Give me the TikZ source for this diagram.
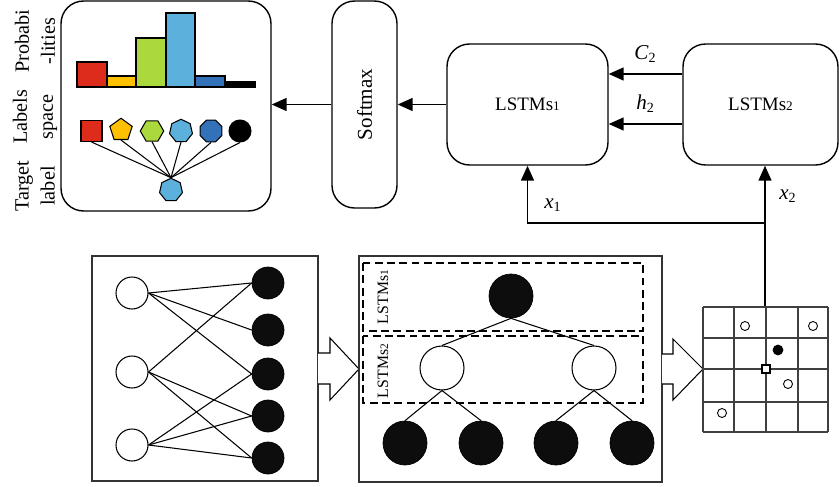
\documentclass[tikz,border=0pt]{standalone}
\usepackage{fontspec}
\setmainfont{Liberation Serif}
\usetikzlibrary{shapes.geometric}
\usetikzlibrary{arrows.meta}

\definecolor{barred}{HTML}{DD2C1B}
\definecolor{baryellow}{HTML}{FFC000}
\definecolor{bargreen}{HTML}{ABD83D}
\definecolor{barblue}{HTML}{5BB0DC}
\definecolor{bardark}{HTML}{3372B8}

\begin{document}
\begin{tikzpicture}[x=0.02cm,y=-0.02cm,
  roundbox/.style={draw,line width=0.8pt,rounded corners=0.45cm,inner sep=0pt},
  arr/.style={line width=0.8pt,-{Triangle[length=3mm,width=2.6mm]}},
  opennode/.style={circle,draw,line width=0.6pt,fill=white,minimum size=#1,inner sep=0pt},
  blacknode/.style={circle,draw,fill=black!95,minimum size=#1,inner sep=0pt},
  poly/.style={draw,line width=0.6pt,inner sep=0pt,minimum size=0.47cm},
  sidelabel/.style={rotate=90,align=center,font=\fontsize{11.5}{14.8}\selectfont},
  gridline/.style={line width=0.6pt,black!75}]

  \useasboundingbox (0,0) rectangle (839,487);

  % top row
  \node[roundbox,minimum width=4.2cm,minimum height=4.2cm] (probbox) at (166,106) {};
  \node[roundbox,minimum width=1.3cm,minimum height=4.14cm] (softmax) at (364.5,104.5)
    {\rotatebox{90}{\fontsize{12}{14}\selectfont Softmax}};
  \node[roundbox,minimum width=3.22cm,minimum height=2.42cm,font=\fontsize{10.8}{13}\selectfont] (lstm1) at (527.5,104.5)
    {LSTMs{\fontsize{7.5}{8}\selectfont 1}};
  \node[roundbox,minimum width=3.1cm,minimum height=2.42cm,font=\fontsize{10.8}{13}\selectfont] (lstm2) at (760.5,104.5)
    {LSTMs{\fontsize{7.5}{8}\selectfont 2}};

  \node[sidelabel] (problabel) at (35,41) {Probabi\\-lities};
  \node[sidelabel] (spacelabel) at (35,117) {Labels\\space};
  \node[sidelabel] (targetlabel) at (35,186) {Target\\label};

  % bars
  \draw[line width=0.6pt,fill=barred] (77,87) rectangle (107,62);
  \draw[line width=0.6pt,fill=baryellow] (107,87) rectangle (136,76);
  \draw[line width=0.6pt,fill=bargreen] (136,87) rectangle (166,38);
  \draw[line width=0.6pt,fill=barblue] (166,87) rectangle (195,13);
  \draw[line width=0.6pt,fill=bardark] (195,87) rectangle (225,76);
  \draw[line width=0.6pt,fill=black] (225,87) rectangle (255,82);

  % label space
  \node[poly,rectangle,fill=barred,minimum size=0.42cm] (sq) at (91.5,131) {};
  \node[poly,regular polygon,regular polygon sides=5,fill=baryellow] (pent) at (121,130) {};
  \node[poly,regular polygon,regular polygon sides=6,fill=bargreen] (hexa) at (152,131) {};
  \node[poly,regular polygon,regular polygon sides=7,fill=barblue] (hepta) at (181,131) {};
  \node[poly,regular polygon,regular polygon sides=8,fill=bardark] (octa) at (211,131) {};
  \node[poly,circle,fill=black,minimum size=0.44cm] (dot) at (240,131) {};
  \node[poly,regular polygon,regular polygon sides=7,fill=barblue] (target) at (171,190) {};
  \foreach \s in {sq,pent,hexa,hepta,octa,dot}
    \draw[line width=0.6pt] (\s.south) -- (target.north);

  \draw[arr] (lstm1) -- (softmax);
  \draw[arr] (softmax.west) -- (softmax.west -| probbox.east);
  \draw[arr] (lstm2.west |- 0,74) -- (lstm1.east |- 0,74)
    node[midway,above=3pt] (clabel) {\fontsize{12}{14}\selectfont\textit{C}\textsubscript{2}};
  \draw[arr] (lstm2.west |- 0,124) -- (lstm1.east |- 0,124)
    node[midway,above=3pt] (hlabel) {\fontsize{12}{14}\selectfont\textit{h}\textsubscript{2}};

  % inputs from the grid
  \coordinate (gridtop) at (765,307);
  \draw[arr] (gridtop) -- (gridtop |- lstm2.south);
  \draw[arr] (gridtop |- 0,223) -| (lstm1.south);
  \node (xone) at (553,205) {\fontsize{12}{14}\selectfont\textit{x}\textsubscript{1}};
  \node (xtwo) at (788,196) {\fontsize{12}{14}\selectfont\textit{x}\textsubscript{2}};

  % bipartite graph
  \node[draw,black!80,line width=0.8pt,minimum width=4.52cm,minimum height=4.5cm] (graphbox) at (205,368.5) {};
  \node[opennode=0.64cm] (a1) at (132,293) {};
  \node[opennode=0.64cm] (a2) at (132,372) {};
  \node[opennode=0.64cm] (a3) at (132,445) {};
  \node[blacknode=0.64cm] (b1) at (268,283) {};
  \node[blacknode=0.64cm] (b2) at (268,330) {};
  \node[blacknode=0.64cm] (b3) at (268,374) {};
  \node[blacknode=0.64cm] (b4) at (268,416) {};
  \node[blacknode=0.64cm] (b5) at (268,458) {};
  \foreach \u/\v in {a1/b1,a1/b2,a1/b3,a2/b1,a2/b4,a2/b5,a3/b3,a3/b4,a3/b5}
    \draw[line width=0.6pt] (\u.east) -- (\v.west);

  \draw[line width=0.6pt,fill=white] (318,353) -- (330,353) -- (330,338) -- (359,369)
    -- (330,400) -- (330,384) -- (318,384);

  % tree
  \node[draw,black!80,line width=0.8pt,minimum width=6.06cm,minimum height=4.52cm] (treebox) at (510.5,369) {};
  \draw[line width=0.7pt,dash pattern=on 4.5pt off 2.5pt] (363,263) rectangle (643,331);
  \draw[line width=0.7pt,dash pattern=on 4.5pt off 2.5pt] (363,336) rectangle (643,403);
  \node[rotate=90,font=\fontsize{9}{10}\selectfont] (lstmonetag) at (383,297) {LSTMs{\fontsize{6.5}{7}\selectfont 1}};
  \node[rotate=90,font=\fontsize{9}{10}\selectfont] (lstmtwotag) at (383,371) {LSTMs{\fontsize{6.5}{7}\selectfont 2}};
  \node[blacknode=0.88cm] (root) at (511,296) {};
  \node[opennode=0.88cm] (m1) at (442,368) {};
  \node[opennode=0.88cm] (m2) at (594,368) {};
  \node[blacknode=0.88cm] (l1) at (405,443) {};
  \node[blacknode=0.88cm] (l2) at (481,443) {};
  \node[blacknode=0.88cm] (l3) at (556,443) {};
  \node[blacknode=0.88cm] (l4) at (632,443) {};
  \draw[line width=0.6pt] (root.south) -- (m1.north);
  \draw[line width=0.6pt] (root.south) -- (m2.north);
  \draw[line width=0.6pt] (m1.south) -- (l1.north);
  \draw[line width=0.6pt] (m1.south) -- (l2.north);
  \draw[line width=0.6pt] (m2.south) -- (l3.north);
  \draw[line width=0.6pt] (m2.south) -- (l4.north);

  \draw[line width=0.6pt,fill=white] (662,354) -- (673,354) -- (673,339) -- (703,369)
    -- (673,400) -- (673,384) -- (662,384);

  % grid
  \foreach \gx in {703,734,766,798,828}
    \draw[gridline] (\gx,307) -- (\gx,432);
  \foreach \gy in {307,338,369,402,432}
    \draw[gridline] (703,\gy) -- (828,\gy);
  \draw[line width=0.5pt,fill=white] (745,326) circle (4.5);
  \draw[line width=0.5pt,fill=white] (813,326) circle (4.5);
  \draw[fill=black] (778,350) circle (5);
  \draw[line width=0.5pt,fill=white] (788,384) circle (4.5);
  \draw[line width=0.5pt,fill=white] (722,413) circle (4.5);
  \draw[line width=0.6pt,fill=white] (762,365) rectangle (770,373);

\end{tikzpicture}
\end{document}
